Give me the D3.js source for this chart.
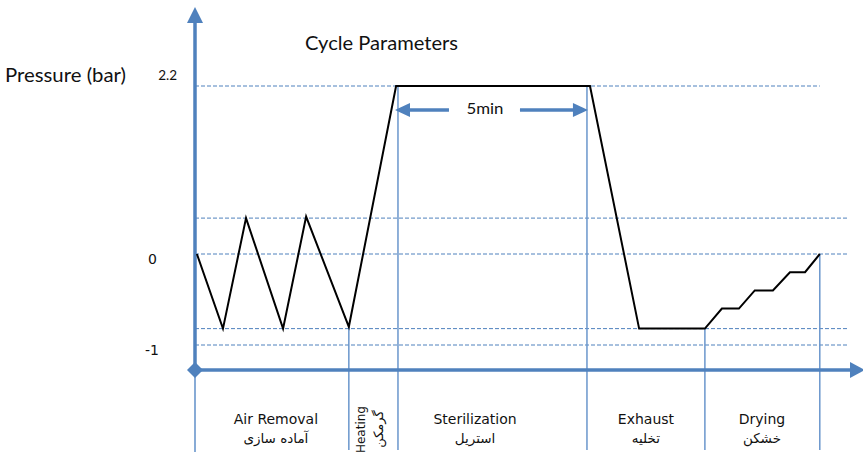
<!DOCTYPE html>
<html><head><meta charset="utf-8">
<script src="https://cdn.jsdelivr.net/npm/d3@7"></script>
<style>body{margin:0;background:#fff}svg{display:block}</style>
</head><body>
<script>
// ---------- data ----------
const timeMin     = [0.05, 0.74, 1.35, 2.33, 2.94, 4.07, 5.32, 10.45, 11.75, 13.49, 13.94, 14.39, 14.81, 15.29, 15.74, 16.14, 16.53];
const pressureBar = [0, -0.82, 0.47, -0.82, 0.49, -0.8, 2.2, 2.2, -0.82, -0.82, -0.6, -0.6, -0.4, -0.4, -0.2, -0.2, 0];
const refLevels    = [2.2, 0.47, 0, -0.82, -1];
const refLevelEnds = [16.53, 17.25, 17.25, 17.25, 17.25];
const phaseBounds   = [4.07, 5.37, 10.37, 13.49, 16.53];
const phaseBoundTop = [-0.8, 2.2, 2.2, -0.82, 0];
const phaseNamesEn = ["Air Removal", "Sterilization", "Exhaust", "Drying"];
const phaseNamesFa = ["آماده سازی", "استریل", "تخلیه", "خشکن"];
const phaseLabelTime = [2.14, 7.41, 11.93, 15.0];
const heatingNames = ["Heating", "گرمکن"];
const yTickValues = [2.2, 0, -1];
const yTickLabels = ["2.2", "0", "-1"];
const holdLabel = "5min";
const holdRange = [5.37, 10.37];
const titleText = "Cycle Parameters";
const yTitleText = "Pressure (bar)";

// ---------- layout ----------
const W = 863, H = 452;
const BLUE = "#4F81BD";
const CAL = "Lato, 'Open Sans', sans-serif";
const ARI = "'DejaVu Sans', sans-serif";
const axisY = 370, axisX = 195, bottomY = 450;

const x = d3.scaleLinear().domain([0, 17.3]).range([195, 848.9]);
const y = d3.scaleLinear().domain([-1, 0, 2.2]).range([345, 254, 86]);

const svg = d3.select("body").append("svg").attr("width", W).attr("height", H);

// dashed reference levels
svg.append("g").selectAll("line").data(refLevels).join("line")
  .attr("x1", axisX).attr("x2", (d, i) => x(refLevelEnds[i]))
  .attr("y1", d => y(d)).attr("y2", d => y(d))
  .attr("stroke", BLUE).attr("stroke-width", 1).attr("stroke-dasharray", "4,2");

// phase boundary lines
svg.append("g").selectAll("line").data(phaseBounds).join("line")
  .attr("x1", d => x(d)).attr("x2", d => x(d))
  .attr("y1", (d, i) => y(phaseBoundTop[i])).attr("y2", bottomY)
  .attr("stroke", "#6a96cc").attr("stroke-width", 1.5);

// axis extension below origin
svg.append("line").attr("x1", axisX).attr("x2", axisX).attr("y1", axisY).attr("y2", bottomY + 2)
  .attr("stroke", "#6a96cc").attr("stroke-width", 1.6);

// y axis with arrow
svg.append("line").attr("x1", axisX).attr("x2", axisX).attr("y1", axisY).attr("y2", 22)
  .attr("stroke", BLUE).attr("stroke-width", 3.5);
svg.append("path").attr("d", d3.line()([[axisX - 8, 23], [axisX + 8, 23], [axisX, 7]]) + "Z").attr("fill", BLUE);
// x axis with arrow
svg.append("line").attr("x1", axisX).attr("x2", 852).attr("y1", axisY).attr("y2", axisY)
  .attr("stroke", BLUE).attr("stroke-width", 3.5);
svg.append("path").attr("d", d3.line()([[850, axisY - 8], [850, axisY + 8], [865, axisY]]) + "Z").attr("fill", BLUE);
// diamond at origin
svg.append("path").attr("d", d3.line()([[axisX - 8, axisY], [axisX, axisY - 8], [axisX + 8, axisY], [axisX, axisY + 8]]) + "Z")
  .attr("fill", BLUE);

// pressure profile
const pts = timeMin.map((t, i) => [x(t), y(pressureBar[i])]);
svg.append("path").attr("d", d3.line()(pts)).attr("fill", "none")
  .attr("stroke", "#000").attr("stroke-width", 2).attr("stroke-linejoin", "miter");

// 5 min hold arrows
const ay = 110;
const xl = x(holdRange[0]) - 3, xr = x(holdRange[1]) + 1;
svg.append("line").attr("x1", xl + 14).attr("x2", xl + 54).attr("y1", ay).attr("y2", ay).attr("stroke", BLUE).attr("stroke-width", 3.5);
svg.append("path").attr("d", d3.line()([[xl, ay], [xl + 15, ay - 7], [xl + 15, ay + 7]]) + "Z").attr("fill", BLUE);
svg.append("line").attr("x1", xr - 68).attr("x2", xr - 14).attr("y1", ay).attr("y2", ay).attr("stroke", BLUE).attr("stroke-width", 3.5);
svg.append("path").attr("d", d3.line()([[xr, ay], [xr - 15, ay - 7], [xr - 15, ay + 7]]) + "Z").attr("fill", BLUE);
svg.append("text").attr("x", 485).attr("y", 114).attr("text-anchor", "middle")
  .attr("font-family", CAL).attr("font-size", 16).attr("fill", "#111").attr("textLength", 37).attr("lengthAdjust", "spacingAndGlyphs").text(holdLabel);

// y tick labels via axis
const yAxis = d3.axisLeft(y).tickValues(yTickValues).tickSize(0).tickFormat((d, i) => yTickLabels[i]);
const gY = svg.append("g").call(yAxis);
gY.select(".domain").remove();
const tickPos = [{x: 177, dy: -7, f: CAL, s: 13.5}, {x: 157, dy: 9, f: ARI, s: 14}, {x: 159, dy: 9, f: ARI, s: 14}];
gY.selectAll(".tick text").each(function(d, i) {
  d3.select(this).attr("x", tickPos[i].x).attr("dy", null).attr("y", tickPos[i].dy)
    .attr("font-family", tickPos[i].f).attr("font-size", tickPos[i].s).attr("fill", "#111");
});

// titles
svg.append("text").attr("x", 305).attr("y", 50).attr("font-family", CAL).attr("font-size", 19)
  .attr("fill", "#111").attr("textLength", 153).attr("lengthAdjust", "spacingAndGlyphs").text(titleText);
svg.append("text").attr("x", 5).attr("y", 82).attr("font-family", CAL).attr("font-size", 19)
  .attr("fill", "#111").attr("textLength", 121).attr("lengthAdjust", "spacingAndGlyphs").text(yTitleText);

// phase labels
const gl = svg.append("g").attr("font-family", ARI).attr("font-size", 14).attr("fill", "#111").attr("text-anchor", "middle");
gl.selectAll("text.en").data(phaseNamesEn).join("text").attr("class", "en")
  .attr("x", (d, i) => x(phaseLabelTime[i])).attr("y", 424).text(d => d);
gl.selectAll("text.fa").data(phaseNamesFa).join("text").attr("class", "fa")
  .attr("x", (d, i) => x(phaseLabelTime[i])).attr("y", 443).attr("font-size", 13.5).text(d => d);

// heating (rotated)
const hx = x(phaseBounds[0]);
svg.append("text").attr("transform", `translate(${hx + 16},406) rotate(-90)`).attr("text-anchor", "end")
  .attr("font-family", ARI).attr("font-size", 12).attr("fill", "#111").text(heatingNames[0]);
svg.append("text").attr("transform", `translate(${hx + 34},429) rotate(-90)`).attr("text-anchor", "middle")
  .attr("font-family", ARI).attr("font-size", 13).attr("fill", "#111").text(heatingNames[1]);
</script>
</body></html>
